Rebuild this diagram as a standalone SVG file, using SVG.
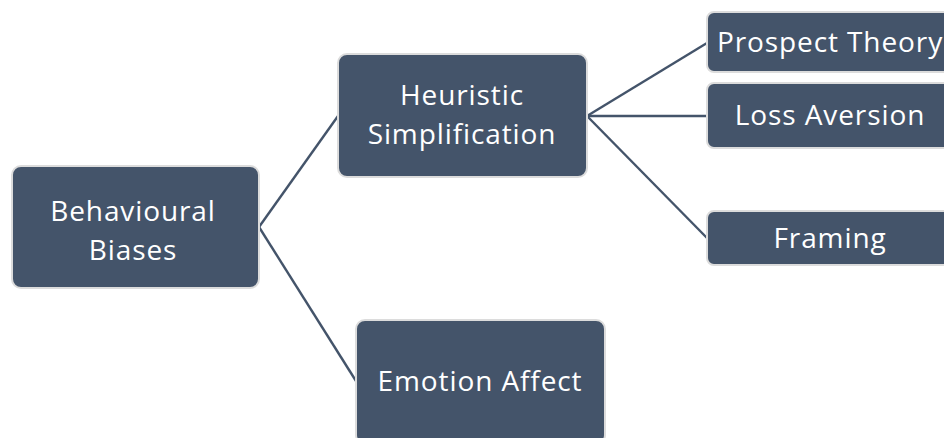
<svg xmlns="http://www.w3.org/2000/svg" width="944" height="438" viewBox="0 0 944 438">
<style>
.box{fill:#44546a;stroke:#dcdcdc;stroke-width:2}
.lbl{fill:#ffffff;font-family:"Open Sans","Noto Sans","Liberation Sans",sans-serif;font-size:28px;letter-spacing:0.9px;text-anchor:middle}
.conn{stroke:#44546a;stroke-width:2.4;fill:none}
</style>
<rect width="944" height="438" fill="#ffffff"/>
<g id="connectors">
<line class="conn" x1="259" y1="227" x2="338" y2="116"/>
<line class="conn" x1="259" y1="227" x2="356" y2="381"/>
<line class="conn" x1="587" y1="116" x2="707" y2="43"/>
<line class="conn" x1="587" y1="116" x2="707" y2="116"/>
<line class="conn" x1="587" y1="116" x2="707" y2="238"/>
</g>
<g id="behavioural-biases">
<rect class="box" x="12" y="166" width="247" height="122" rx="9"/>
<text class="lbl" x="133" y="221">Behavioural</text>
<text class="lbl" x="133" y="260">Biases</text>
</g>
<g id="heuristic-simplification">
<rect class="box" x="338" y="54" width="249" height="123" rx="9"/>
<text class="lbl" x="462" y="105">Heuristic</text>
<text class="lbl" x="462" y="144">Simplification</text>
</g>
<g id="emotion-affect">
<rect class="box" x="356" y="320" width="249" height="124" rx="9"/>
<text class="lbl" x="480" y="391">Emotion Affect</text>
</g>
<g id="prospect-theory">
<rect class="box" x="707" y="12" width="247" height="60" rx="7"/>
<text class="lbl" x="830" y="52">Prospect Theory</text>
</g>
<g id="loss-aversion">
<rect class="box" x="707" y="83" width="247" height="65" rx="7"/>
<text class="lbl" x="830" y="125">Loss Aversion</text>
</g>
<g id="framing">
<rect class="box" x="707" y="211" width="247" height="54" rx="7"/>
<text class="lbl" x="830" y="248">Framing</text>
</g>
</svg>
